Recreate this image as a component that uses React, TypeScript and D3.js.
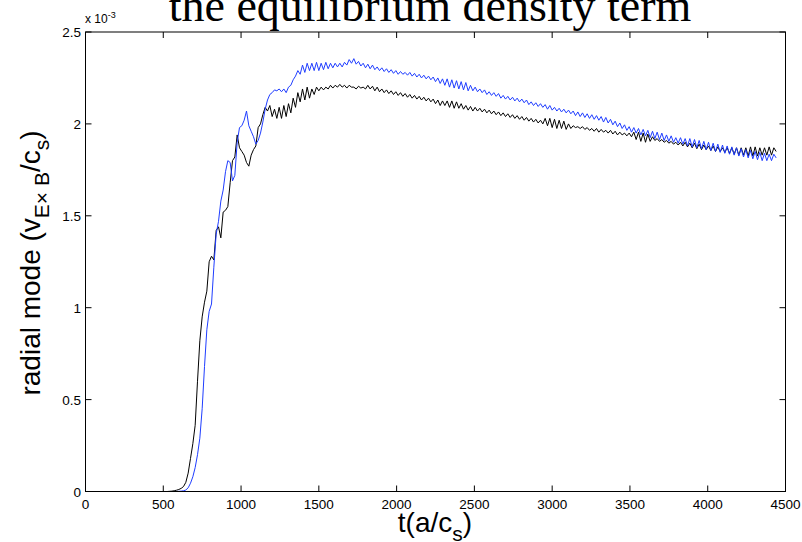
import React from "react";
import * as d3 from "d3";

const xTicks = [0, 500, 1000, 1500, 2000, 2500, 3000, 3500, 4000, 4500];
const yTicks = [0, 0.5, 1, 1.5, 2, 2.5];
const yTickLabels = ["0", "0.5", "1", "1.5", "2", "2.5"];
const timeStep = 15; // t(a/c_s) between samples

// radial mode, units of 1e-3, sampled every 15 t(a/c_s) starting at t = 0
const blackSeries = [
  0, 0, 0, 0, 0, 0, 0, 0, 0, 0, 0, 0, 0, 0, 0, 0, 0, 0, 0, 0, 0, 0, 0, 0, 0, 0, 0, 0, 0, 0, 0, 0, 0, 0, 0, 0,
  0.001, 0.002, 0.004, 0.007, 0.011, 0.017, 0.027, 0.05, 0.1, 0.18, 0.26, 0.36, 0.6, 0.82, 0.95, 1.03, 1.09, 1.25,
  1.28, 1.26, 1.42, 1.44, 1.38, 1.52, 1.53, 1.55, 1.68, 1.8, 1.82, 1.94, 1.87, 1.85, 1.83, 1.79, 1.77, 1.83, 1.86,
  1.88, 1.98, 2.0,
  2.05, 2.09, 2.07, 2.1, 2.04, 2.08, 2.03, 2.09, 2.03, 2.1, 2.04, 2.11, 2.06, 2.14, 2.09, 2.17, 2.12, 2.19, 2.13, 2.2,
  2.14, 2.19, 2.16, 2.2, 2.18, 2.2, 2.185, 2.2, 2.19, 2.21, 2.195, 2.21, 2.2, 2.215, 2.2, 2.21, 2.195, 2.21, 2.2, 2.2,
  2.19, 2.205, 2.195, 2.2, 2.19, 2.21, 2.19, 2.205, 2.18, 2.2, 2.175, 2.19, 2.17, 2.185, 2.165, 2.18, 2.16, 2.175, 2.155, 2.17,
  2.15, 2.165, 2.145, 2.16, 2.14, 2.155, 2.135, 2.15, 2.13, 2.145, 2.125, 2.14, 2.12, 2.135, 2.11, 2.13, 2.1, 2.125, 2.1, 2.125,
  2.09, 2.125, 2.085, 2.12, 2.085, 2.11, 2.08, 2.1, 2.075, 2.095, 2.07, 2.09, 2.07, 2.085, 2.065, 2.08, 2.06, 2.075, 2.055, 2.07,
  2.05, 2.065, 2.045, 2.06, 2.04, 2.055, 2.035, 2.05, 2.03, 2.045, 2.025, 2.04, 2.02, 2.035, 2.015, 2.03, 2.01, 2.025, 2.005, 2.02,
  2.0, 2.03, 1.99, 2.03, 1.98, 2.025, 1.975, 2.02, 1.975, 2.015, 1.97, 2.0, 1.975, 1.99, 1.98, 1.985, 1.975, 1.985, 1.97, 1.98,
  1.965, 1.975, 1.96, 1.975, 1.955, 1.97, 1.955, 1.965, 1.95, 1.965, 1.945, 1.96, 1.94, 1.955, 1.94, 1.95, 1.935, 1.95, 1.93, 1.955,
  1.915, 1.955, 1.905, 1.95, 1.9, 1.945, 1.905, 1.93, 1.91, 1.92, 1.905, 1.915, 1.9, 1.91, 1.895, 1.905, 1.89, 1.9, 1.885, 1.9,
  1.88, 1.9, 1.875, 1.895, 1.87, 1.895, 1.865, 1.89, 1.86, 1.885, 1.86, 1.88, 1.855, 1.88, 1.85, 1.875, 1.85, 1.87, 1.845, 1.87,
  1.84, 1.87, 1.835, 1.87, 1.83, 1.87, 1.83, 1.87, 1.825, 1.875, 1.825, 1.875, 1.825, 1.87, 1.83, 1.87, 1.83, 1.875, 1.83, 1.87,
  1.85,
];

const blueSeries = [
  0, 0, 0, 0, 0, 0, 0, 0, 0, 0, 0, 0, 0, 0, 0, 0, 0, 0, 0, 0, 0, 0, 0, 0, 0, 0, 0, 0, 0, 0, 0, 0, 0, 0, 0, 0, 0, 0, 0, 0,
  0.001, 0.002, 0.004, 0.008, 0.02, 0.045, 0.08, 0.13, 0.2, 0.29, 0.45, 0.68, 0.88, 0.98, 1.02, 1.22, 1.4, 1.47, 1.58,
  1.64, 1.74, 1.8, 1.79, 1.69, 1.72, 1.9, 1.98, 1.99, 2.02, 2.07, 1.99, 1.96, 1.93, 1.89, 1.91, 1.95, 2.01, 2.08, 2.13,
  2.16,
  2.17, 2.185, 2.18, 2.19, 2.175, 2.19, 2.17, 2.2, 2.21, 2.24, 2.26, 2.29, 2.27, 2.32, 2.28, 2.33, 2.29, 2.33, 2.29, 2.335,
  2.29, 2.33, 2.295, 2.335, 2.3, 2.33, 2.305, 2.33, 2.31, 2.33, 2.31, 2.335, 2.32, 2.35, 2.33, 2.355, 2.325, 2.34, 2.315, 2.33,
  2.305, 2.325, 2.3, 2.32, 2.295, 2.31, 2.29, 2.305, 2.285, 2.3, 2.28, 2.295, 2.275, 2.29, 2.27, 2.285, 2.27, 2.28, 2.265, 2.28,
  2.26, 2.275, 2.255, 2.27, 2.25, 2.265, 2.245, 2.26, 2.24, 2.255, 2.23, 2.25, 2.22, 2.245, 2.21, 2.245, 2.2, 2.24, 2.195, 2.235,
  2.19, 2.23, 2.185, 2.225, 2.18, 2.21, 2.18, 2.2, 2.175, 2.19, 2.17, 2.185, 2.16, 2.175, 2.155, 2.17, 2.15, 2.165, 2.14, 2.155,
  2.135, 2.15, 2.13, 2.145, 2.125, 2.14, 2.12, 2.135, 2.115, 2.13, 2.105, 2.12, 2.1, 2.115, 2.095, 2.11, 2.09, 2.105, 2.08, 2.1,
  2.075, 2.09, 2.07, 2.085, 2.065, 2.08, 2.06, 2.075, 2.055, 2.07, 2.045, 2.065, 2.04, 2.06, 2.035, 2.055, 2.03, 2.05, 2.025, 2.045,
  2.02, 2.04, 2.01, 2.035, 2.005, 2.025, 1.995, 2.015, 1.985, 2.005, 1.975, 1.995, 1.965, 1.985, 1.955, 1.98, 1.95, 1.975, 1.94, 1.97,
  1.935, 1.965, 1.925, 1.96, 1.92, 1.955, 1.915, 1.95, 1.91, 1.94, 1.905, 1.935, 1.9, 1.925, 1.895, 1.925, 1.89, 1.92, 1.88, 1.92,
  1.875, 1.915, 1.87, 1.91, 1.865, 1.905, 1.86, 1.9, 1.855, 1.895, 1.85, 1.89, 1.845, 1.885, 1.84, 1.88, 1.835, 1.875, 1.83, 1.87,
  1.825, 1.865, 1.82, 1.86, 1.815, 1.855, 1.81, 1.85, 1.805, 1.845, 1.8, 1.84, 1.8, 1.835, 1.8, 1.835, 1.815,
];

const W = 802;
const H = 542;
const PLOT = { left: 85.5, right: 785.5, top: 32, bottom: 491.5 };
const SANS = "'Liberation Sans', Arial, Helvetica, sans-serif";
const SERIF = "'Liberation Serif', 'Times New Roman', serif";

export default function App() {
  const x = d3.scaleLinear().domain([0, 4500]).range([PLOT.left, PLOT.right]);
  const y = d3.scaleLinear().domain([0, 2.5]).range([PLOT.bottom, PLOT.top]);
  const line = d3
    .line<number>()
    .x((_, i) => x(i * timeStep))
    .y((v) => y(v));
  const tickLen = 6;

  return (
    <div style={{ position: "absolute", left: 0, top: 0, width: W, height: H, background: "#fff" }}>
      <svg width={W} height={H} viewBox={`0 0 ${W} ${H}`} style={{ display: "block" }}>
        <rect x={0} y={0} width={W} height={H} fill="#fff" />
        <defs>
          <clipPath id="plotclip">
            <rect x={PLOT.left} y={PLOT.top - 2} width={PLOT.right - PLOT.left} height={PLOT.bottom - PLOT.top + 2} />
          </clipPath>
        </defs>
        {/* data */}
        <g clipPath="url(#plotclip)">
          <path d={line(blackSeries) || ""} fill="none" stroke="#000" strokeWidth={1} />
          <path d={line(blueSeries) || ""} fill="none" stroke="#1f3dff" strokeWidth={1} />
        </g>
        {/* box */}
        <rect
          x={PLOT.left}
          y={PLOT.top}
          width={PLOT.right - PLOT.left}
          height={PLOT.bottom - PLOT.top}
          fill="none"
          stroke="#000"
          strokeWidth={1}
        />
        {/* x ticks */}
        {xTicks.map((t) => (
          <g key={"x" + t}>
            <line x1={x(t)} x2={x(t)} y1={PLOT.bottom} y2={PLOT.bottom - tickLen} stroke="#000" />
            <line x1={x(t)} x2={x(t)} y1={PLOT.top} y2={PLOT.top + tickLen} stroke="#000" />
            <text x={x(t)} y={509} textAnchor="middle" fontFamily={SANS} fontSize={13.5} fill="#000">
              {t}
            </text>
          </g>
        ))}
        {/* y ticks */}
        {yTicks.map((v, i) => (
          <g key={"y" + v}>
            <line x1={PLOT.left} x2={PLOT.left + tickLen} y1={y(v)} y2={y(v)} stroke="#000" />
            <line x1={PLOT.right} x2={PLOT.right - tickLen} y1={y(v)} y2={y(v)} stroke="#000" />
            <text x={81} y={y(v) + 5} textAnchor="end" fontFamily={SANS} fontSize={13.5} fill="#000">
              {yTickLabels[i]}
            </text>
          </g>
        ))}
        {/* exponent */}
        <text x={85} y={23} fontFamily={SANS} fontSize={12} fill="#000">
          x 10
          <tspan dy={-5} fontSize={9}>
            -3
          </tspan>
        </text>
        {/* title */}
        <text x={430} y={21} textAnchor="middle" fontFamily={SERIF} fontSize={46} fill="#000">
          the equilibrium density term
        </text>
        {/* y label */}
        <text
          transform={`translate(40, 263) rotate(-90)`}
          textAnchor="middle"
          fontFamily={SANS}
          fontSize={28}
          fill="#000"
        >
          radial mode (v
          <tspan dy={9} fontSize={21}>
            E× B
          </tspan>
          <tspan dy={-9}>/c</tspan>
          <tspan dy={9} fontSize={21}>
            s
          </tspan>
          <tspan dy={-9}>)</tspan>
        </text>
        {/* x label */}
        <text x={435} y={532} textAnchor="middle" fontFamily={SANS} fontSize={28} fill="#000">
          t(a/c
          <tspan dy={9} fontSize={21}>
            s
          </tspan>
          <tspan dy={-9}>)</tspan>
        </text>
      </svg>
    </div>
  );
}
